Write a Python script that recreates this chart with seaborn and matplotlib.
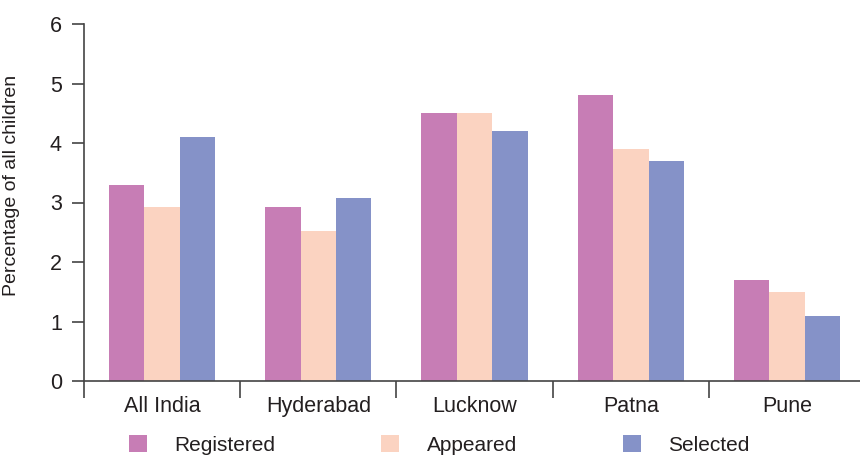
import matplotlib
matplotlib.use("Agg")
import matplotlib.pyplot as plt
import seaborn as sns
import pandas as pd
from matplotlib.patches import Patch

categories = ["All India", "Hyderabad", "Lucknow", "Patna", "Pune"]
series = ["Registered", "Appeared", "Selected"]
registered = [3.3, 2.93, 4.5, 4.8, 1.7]
appeared = [2.93, 2.52, 4.5, 3.9, 1.5]
selected = [4.1, 3.08, 4.2, 3.7, 1.1]
colors = ["#C77DB5", "#FBD3C1", "#8592C8"]

rows = []
for name, vals in zip(series, [registered, appeared, selected]):
    for c, v in zip(categories, vals):
        rows.append({"City": c, "Series": name, "Value": v})
df = pd.DataFrame(rows)

sns.set_style("white")
text_color = "#231F20"
plt.rcParams["font.family"] = ["Liberation Sans", "DejaVu Sans"]
plt.rcParams["text.color"] = text_color

fs = 15.5
fig = plt.figure(figsize=(8.6, 4.57), dpi=100)
ax = fig.add_axes([84/860, 1 - 381/457, 1 - 84/860 + 0.006, (381 - 24)/457])

sns.barplot(data=df, x="City", y="Value", hue="Series", order=categories,
            hue_order=series, palette=colors, width=0.68, gap=0,
            saturation=1, ax=ax, legend=False, linewidth=0, edgecolor="none")

ax.set_ylim(0, 6)
ax.set_xlim(-0.5, 4.5)
ax.set_yticks(range(0, 7))
ax.set_yticklabels([str(i) for i in range(0, 7)], fontsize=fs, color=text_color)
ax.tick_params(axis="y", direction="out", length=9, width=1.2, color="#444444", pad=7, left=True)

ax.set_xticks([i - 0.5 for i in range(len(categories) + 1)])
ax.set_xticklabels([])
ax.tick_params(axis="x", which="major", direction="out", length=12, width=1.2, color="#444444", bottom=True)
ax.set_xticks(range(len(categories)), minor=True)
ax.set_xticklabels(categories, minor=True, fontsize=fs, color=text_color)
ax.tick_params(axis="x", which="minor", length=0, pad=11)

for s in ["top", "right"]:
    ax.spines[s].set_visible(False)
for s in ["left", "bottom"]:
    ax.spines[s].set_color("#444444")
    ax.spines[s].set_linewidth(1.2)

ax.set_xlabel("")
ax.set_ylabel("Percentage of all children", fontsize=14, color=text_color)
ax.yaxis.set_label_coords(-0.082, 0.549)

handles = [Patch(facecolor=c, edgecolor="none", label=s) for c, s in zip(colors, series)]
fig.legend(handles=handles, loc="center left", bbox_to_anchor=(129/860, 1 - 445/457), ncol=3,
           frameon=False, fontsize=15, handlelength=0.865, handleheight=0.865,
           handletextpad=1.3, columnspacing=5.1, borderpad=0, borderaxespad=0)

fig.savefig("out.png", dpi=100)
